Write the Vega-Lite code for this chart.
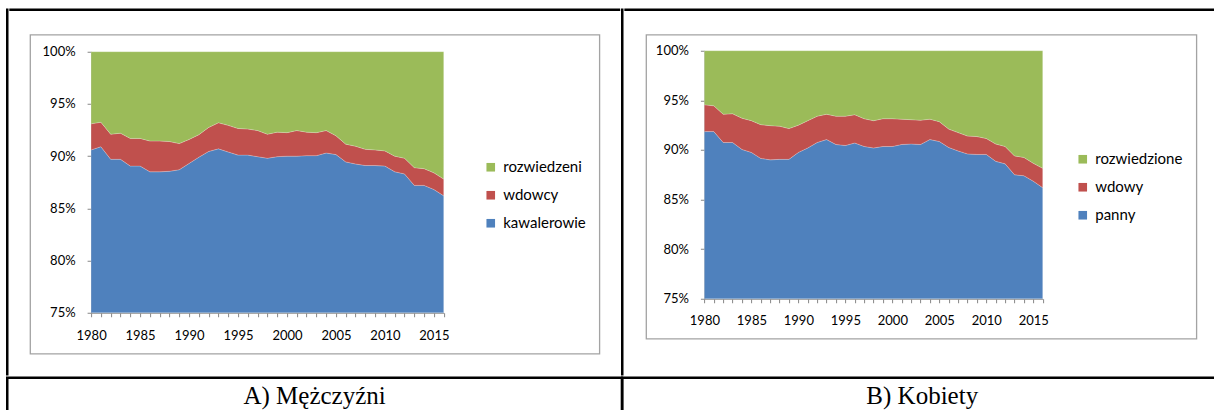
{
  "$schema": "https://vega.github.io/schema/vega-lite/v6.json",
  "padding": {"left": 5.25, "top": 7.75, "right": 0, "bottom": 0},
  "background": "white",
  "datasets": {
    "m": [
      {"rok":1980,"stan":"kawalerowie","udzial":90.6},{"rok":1980,"stan":"wdowcy","udzial":2.5},{"rok":1980,"stan":"rozwiedzeni","udzial":6.9},
      {"rok":1981,"stan":"kawalerowie","udzial":90.9},{"rok":1981,"stan":"wdowcy","udzial":2.35},{"rok":1981,"stan":"rozwiedzeni","udzial":6.75},
      {"rok":1982,"stan":"kawalerowie","udzial":89.7},{"rok":1982,"stan":"wdowcy","udzial":2.4},{"rok":1982,"stan":"rozwiedzeni","udzial":7.9},
      {"rok":1983,"stan":"kawalerowie","udzial":89.7},{"rok":1983,"stan":"wdowcy","udzial":2.5},{"rok":1983,"stan":"rozwiedzeni","udzial":7.8},
      {"rok":1984,"stan":"kawalerowie","udzial":89.05},{"rok":1984,"stan":"wdowcy","udzial":2.65},{"rok":1984,"stan":"rozwiedzeni","udzial":8.3},
      {"rok":1985,"stan":"kawalerowie","udzial":89.05},{"rok":1985,"stan":"wdowcy","udzial":2.65},{"rok":1985,"stan":"rozwiedzeni","udzial":8.3},
      {"rok":1986,"stan":"kawalerowie","udzial":88.5},{"rok":1986,"stan":"wdowcy","udzial":2.95},{"rok":1986,"stan":"rozwiedzeni","udzial":8.55},
      {"rok":1987,"stan":"kawalerowie","udzial":88.5},{"rok":1987,"stan":"wdowcy","udzial":2.95},{"rok":1987,"stan":"rozwiedzeni","udzial":8.55},
      {"rok":1988,"stan":"kawalerowie","udzial":88.55},{"rok":1988,"stan":"wdowcy","udzial":2.85},{"rok":1988,"stan":"rozwiedzeni","udzial":8.6},
      {"rok":1989,"stan":"kawalerowie","udzial":88.7},{"rok":1989,"stan":"wdowcy","udzial":2.5},{"rok":1989,"stan":"rozwiedzeni","udzial":8.8},
      {"rok":1990,"stan":"kawalerowie","udzial":89.3},{"rok":1990,"stan":"wdowcy","udzial":2.3},{"rok":1990,"stan":"rozwiedzeni","udzial":8.4},
      {"rok":1991,"stan":"kawalerowie","udzial":89.9},{"rok":1991,"stan":"wdowcy","udzial":2.15},{"rok":1991,"stan":"rozwiedzeni","udzial":7.95},
      {"rok":1992,"stan":"kawalerowie","udzial":90.45},{"rok":1992,"stan":"wdowcy","udzial":2.3},{"rok":1992,"stan":"rozwiedzeni","udzial":7.25},
      {"rok":1993,"stan":"kawalerowie","udzial":90.7},{"rok":1993,"stan":"wdowcy","udzial":2.5},{"rok":1993,"stan":"rozwiedzeni","udzial":6.8},
      {"rok":1994,"stan":"kawalerowie","udzial":90.4},{"rok":1994,"stan":"wdowcy","udzial":2.55},{"rok":1994,"stan":"rozwiedzeni","udzial":7.05},
      {"rok":1995,"stan":"kawalerowie","udzial":90.1},{"rok":1995,"stan":"wdowcy","udzial":2.55},{"rok":1995,"stan":"rozwiedzeni","udzial":7.35},
      {"rok":1996,"stan":"kawalerowie","udzial":90.1},{"rok":1996,"stan":"wdowcy","udzial":2.5},{"rok":1996,"stan":"rozwiedzeni","udzial":7.4},
      {"rok":1997,"stan":"kawalerowie","udzial":89.95},{"rok":1997,"stan":"wdowcy","udzial":2.5},{"rok":1997,"stan":"rozwiedzeni","udzial":7.55},
      {"rok":1998,"stan":"kawalerowie","udzial":89.8},{"rok":1998,"stan":"wdowcy","udzial":2.3},{"rok":1998,"stan":"rozwiedzeni","udzial":7.9},
      {"rok":1999,"stan":"kawalerowie","udzial":89.95},{"rok":1999,"stan":"wdowcy","udzial":2.35},{"rok":1999,"stan":"rozwiedzeni","udzial":7.7},
      {"rok":2000,"stan":"kawalerowie","udzial":90.0},{"rok":2000,"stan":"wdowcy","udzial":2.25},{"rok":2000,"stan":"rozwiedzeni","udzial":7.75},
      {"rok":2001,"stan":"kawalerowie","udzial":90.0},{"rok":2001,"stan":"wdowcy","udzial":2.45},{"rok":2001,"stan":"rozwiedzeni","udzial":7.55},
      {"rok":2002,"stan":"kawalerowie","udzial":90.05},{"rok":2002,"stan":"wdowcy","udzial":2.25},{"rok":2002,"stan":"rozwiedzeni","udzial":7.7},
      {"rok":2003,"stan":"kawalerowie","udzial":90.05},{"rok":2003,"stan":"wdowcy","udzial":2.2},{"rok":2003,"stan":"rozwiedzeni","udzial":7.75},
      {"rok":2004,"stan":"kawalerowie","udzial":90.3},{"rok":2004,"stan":"wdowcy","udzial":2.15},{"rok":2004,"stan":"rozwiedzeni","udzial":7.55},
      {"rok":2005,"stan":"kawalerowie","udzial":90.15},{"rok":2005,"stan":"wdowcy","udzial":1.8},{"rok":2005,"stan":"rozwiedzeni","udzial":8.05},
      {"rok":2006,"stan":"kawalerowie","udzial":89.45},{"rok":2006,"stan":"wdowcy","udzial":1.7},{"rok":2006,"stan":"rozwiedzeni","udzial":8.85},
      {"rok":2007,"stan":"kawalerowie","udzial":89.25},{"rok":2007,"stan":"wdowcy","udzial":1.7},{"rok":2007,"stan":"rozwiedzeni","udzial":9.05},
      {"rok":2008,"stan":"kawalerowie","udzial":89.1},{"rok":2008,"stan":"wdowcy","udzial":1.55},{"rok":2008,"stan":"rozwiedzeni","udzial":9.35},
      {"rok":2009,"stan":"kawalerowie","udzial":89.1},{"rok":2009,"stan":"wdowcy","udzial":1.5},{"rok":2009,"stan":"rozwiedzeni","udzial":9.4},
      {"rok":2010,"stan":"kawalerowie","udzial":89.05},{"rok":2010,"stan":"wdowcy","udzial":1.45},{"rok":2010,"stan":"rozwiedzeni","udzial":9.5},
      {"rok":2011,"stan":"kawalerowie","udzial":88.5},{"rok":2011,"stan":"wdowcy","udzial":1.5},{"rok":2011,"stan":"rozwiedzeni","udzial":10.0},
      {"rok":2012,"stan":"kawalerowie","udzial":88.3},{"rok":2012,"stan":"wdowcy","udzial":1.5},{"rok":2012,"stan":"rozwiedzeni","udzial":10.2},
      {"rok":2013,"stan":"kawalerowie","udzial":87.2},{"rok":2013,"stan":"wdowcy","udzial":1.7},{"rok":2013,"stan":"rozwiedzeni","udzial":11.1},
      {"rok":2014,"stan":"kawalerowie","udzial":87.2},{"rok":2014,"stan":"wdowcy","udzial":1.6},{"rok":2014,"stan":"rozwiedzeni","udzial":11.2},
      {"rok":2015,"stan":"kawalerowie","udzial":86.8},{"rok":2015,"stan":"wdowcy","udzial":1.6},{"rok":2015,"stan":"rozwiedzeni","udzial":11.6},
      {"rok":2016,"stan":"kawalerowie","udzial":86.2},{"rok":2016,"stan":"wdowcy","udzial":1.6},{"rok":2016,"stan":"rozwiedzeni","udzial":12.2}
    ],
    "k": [
      {"rok":1980,"stan":"panny","udzial":91.85},{"rok":1980,"stan":"wdowy","udzial":2.7},{"rok":1980,"stan":"rozwiedzione","udzial":5.45},
      {"rok":1981,"stan":"panny","udzial":91.85},{"rok":1981,"stan":"wdowy","udzial":2.6},{"rok":1981,"stan":"rozwiedzione","udzial":5.55},
      {"rok":1982,"stan":"panny","udzial":90.75},{"rok":1982,"stan":"wdowy","udzial":2.85},{"rok":1982,"stan":"rozwiedzione","udzial":6.4},
      {"rok":1983,"stan":"panny","udzial":90.75},{"rok":1983,"stan":"wdowy","udzial":2.9},{"rok":1983,"stan":"rozwiedzione","udzial":6.35},
      {"rok":1984,"stan":"panny","udzial":90.05},{"rok":1984,"stan":"wdowy","udzial":3.15},{"rok":1984,"stan":"rozwiedzione","udzial":6.8},
      {"rok":1985,"stan":"panny","udzial":89.75},{"rok":1985,"stan":"wdowy","udzial":3.2},{"rok":1985,"stan":"rozwiedzione","udzial":7.05},
      {"rok":1986,"stan":"panny","udzial":89.15},{"rok":1986,"stan":"wdowy","udzial":3.4},{"rok":1986,"stan":"rozwiedzione","udzial":7.45},
      {"rok":1987,"stan":"panny","udzial":89.0},{"rok":1987,"stan":"wdowy","udzial":3.45},{"rok":1987,"stan":"rozwiedzione","udzial":7.55},
      {"rok":1988,"stan":"panny","udzial":89.05},{"rok":1988,"stan":"wdowy","udzial":3.35},{"rok":1988,"stan":"rozwiedzione","udzial":7.6},
      {"rok":1989,"stan":"panny","udzial":89.05},{"rok":1989,"stan":"wdowy","udzial":3.1},{"rok":1989,"stan":"rozwiedzione","udzial":7.85},
      {"rok":1990,"stan":"panny","udzial":89.75},{"rok":1990,"stan":"wdowy","udzial":2.75},{"rok":1990,"stan":"rozwiedzione","udzial":7.5},
      {"rok":1991,"stan":"panny","udzial":90.2},{"rok":1991,"stan":"wdowy","udzial":2.75},{"rok":1991,"stan":"rozwiedzione","udzial":7.05},
      {"rok":1992,"stan":"panny","udzial":90.75},{"rok":1992,"stan":"wdowy","udzial":2.65},{"rok":1992,"stan":"rozwiedzione","udzial":6.6},
      {"rok":1993,"stan":"panny","udzial":91.05},{"rok":1993,"stan":"wdowy","udzial":2.55},{"rok":1993,"stan":"rozwiedzione","udzial":6.4},
      {"rok":1994,"stan":"panny","udzial":90.55},{"rok":1994,"stan":"wdowy","udzial":2.85},{"rok":1994,"stan":"rozwiedzione","udzial":6.6},
      {"rok":1995,"stan":"panny","udzial":90.45},{"rok":1995,"stan":"wdowy","udzial":2.95},{"rok":1995,"stan":"rozwiedzione","udzial":6.6},
      {"rok":1996,"stan":"panny","udzial":90.7},{"rok":1996,"stan":"wdowy","udzial":2.85},{"rok":1996,"stan":"rozwiedzione","udzial":6.45},
      {"rok":1997,"stan":"panny","udzial":90.35},{"rok":1997,"stan":"wdowy","udzial":2.8},{"rok":1997,"stan":"rozwiedzione","udzial":6.85},
      {"rok":1998,"stan":"panny","udzial":90.2},{"rok":1998,"stan":"wdowy","udzial":2.75},{"rok":1998,"stan":"rozwiedzione","udzial":7.05},
      {"rok":1999,"stan":"panny","udzial":90.35},{"rok":1999,"stan":"wdowy","udzial":2.8},{"rok":1999,"stan":"rozwiedzione","udzial":6.85},
      {"rok":2000,"stan":"panny","udzial":90.35},{"rok":2000,"stan":"wdowy","udzial":2.8},{"rok":2000,"stan":"rozwiedzione","udzial":6.85},
      {"rok":2001,"stan":"panny","udzial":90.55},{"rok":2001,"stan":"wdowy","udzial":2.55},{"rok":2001,"stan":"rozwiedzione","udzial":6.9},
      {"rok":2002,"stan":"panny","udzial":90.6},{"rok":2002,"stan":"wdowy","udzial":2.45},{"rok":2002,"stan":"rozwiedzione","udzial":6.95},
      {"rok":2003,"stan":"panny","udzial":90.55},{"rok":2003,"stan":"wdowy","udzial":2.45},{"rok":2003,"stan":"rozwiedzione","udzial":7.0},
      {"rok":2004,"stan":"panny","udzial":91.05},{"rok":2004,"stan":"wdowy","udzial":2.05},{"rok":2004,"stan":"rozwiedzione","udzial":6.9},
      {"rok":2005,"stan":"panny","udzial":90.85},{"rok":2005,"stan":"wdowy","udzial":2.0},{"rok":2005,"stan":"rozwiedzione","udzial":7.15},
      {"rok":2006,"stan":"panny","udzial":90.25},{"rok":2006,"stan":"wdowy","udzial":1.85},{"rok":2006,"stan":"rozwiedzione","udzial":7.9},
      {"rok":2007,"stan":"panny","udzial":89.9},{"rok":2007,"stan":"wdowy","udzial":1.85},{"rok":2007,"stan":"rozwiedzione","udzial":8.25},
      {"rok":2008,"stan":"panny","udzial":89.6},{"rok":2008,"stan":"wdowy","udzial":1.8},{"rok":2008,"stan":"rozwiedzione","udzial":8.6},
      {"rok":2009,"stan":"panny","udzial":89.55},{"rok":2009,"stan":"wdowy","udzial":1.8},{"rok":2009,"stan":"rozwiedzione","udzial":8.65},
      {"rok":2010,"stan":"panny","udzial":89.55},{"rok":2010,"stan":"wdowy","udzial":1.6},{"rok":2010,"stan":"rozwiedzione","udzial":8.85},
      {"rok":2011,"stan":"panny","udzial":88.85},{"rok":2011,"stan":"wdowy","udzial":1.75},{"rok":2011,"stan":"rozwiedzione","udzial":9.4},
      {"rok":2012,"stan":"panny","udzial":88.6},{"rok":2012,"stan":"wdowy","udzial":1.75},{"rok":2012,"stan":"rozwiedzione","udzial":9.65},
      {"rok":2013,"stan":"panny","udzial":87.5},{"rok":2013,"stan":"wdowy","udzial":1.9},{"rok":2013,"stan":"rozwiedzione","udzial":10.6},
      {"rok":2014,"stan":"panny","udzial":87.4},{"rok":2014,"stan":"wdowy","udzial":1.85},{"rok":2014,"stan":"rozwiedzione","udzial":10.75},
      {"rok":2015,"stan":"panny","udzial":86.85},{"rok":2015,"stan":"wdowy","udzial":1.8},{"rok":2015,"stan":"rozwiedzione","udzial":11.35},
      {"rok":2016,"stan":"panny","udzial":86.2},{"rok":2016,"stan":"wdowy","udzial":1.95},{"rok":2016,"stan":"rozwiedzione","udzial":11.85}
    ],
    "kolejnosc": [
      {"stan":"kawalerowie","warstwa":1},{"stan":"wdowcy","warstwa":2},{"stan":"rozwiedzeni","warstwa":3},
      {"stan":"panny","warstwa":1},{"stan":"wdowy","warstwa":2},{"stan":"rozwiedzione","warstwa":3}
    ]
  },
  "vconcat": [
    {
      "hconcat": [
        {"data": {"values": []}, "mark": "point", "width": 0.01, "height": 364.5, "view": {"stroke": "#000", "strokeWidth": 2.5}},
        {
          "vconcat": [
            {"data": {"values": []}, "mark": "point", "width": 608.4, "height": 0.01, "view": {"stroke": "#000", "strokeWidth": 2.5}},
            {
              "data": {"name": "m"},
              "transform": [{"lookup": "stan", "from": {"data": {"name": "kolejnosc"}, "key": "stan", "fields": ["warstwa"]}}],
              "width": 569.3,
              "height": 319,
              "view": {"stroke": "#a3a3a3", "strokeWidth": 1.3},
              "mark": {"type": "area", "stroke": "#ffffff", "strokeWidth": 0.4, "strokeOpacity": 0.5},
              "encoding": {
                "x": {
                  "field": "rok", "type": "quantitative",
                  "scale": {"domain": [1980, 2016], "range": [61, 413.6], "nice": false, "zero": false},
                  "axis": {"title": null, "offset": -41, "labelFlush": false, "labelOverlap": false, "values": [1980,1981,1982,1983,1984,1985,1986,1987,1988,1989,1990,1991,1992,1993,1994,1995,1996,1997,1998,1999,2000,2001,2002,2003,2004,2005,2006,2007,2008,2009,2010,2011,2012,2013,2014,2015,2016], "labelExpr": "datum.value % 5 == 0 ? datum.value : ''", "labelPadding": 13}
                },
                "y": {
                  "field": "udzial", "type": "quantitative", "stack": "normalize",
                  "scale": {"domain": [0.75, 1], "range": [278, 17], "clamp": true, "nice": false, "zero": false},
                  "axis": {"title": null, "offset": -61, "values": [0.75, 0.8, 0.85, 0.9, 0.95, 1], "format": ".0%", "labelPadding": 12}
                },
                "order": {"field": "warstwa", "type": "quantitative"},
                "color": {
                  "field": "stan", "type": "nominal",
                  "scale": {"domain": ["rozwiedzeni", "wdowcy", "kawalerowie"], "range": ["#9BBB59", "#C0504D", "#4F81BD"]},
                  "legend": {"title": null, "orient": "none", "legendX": 473, "legendY": 150, "rowPadding": 12}
                }
              }
            }
          ],
          "spacing": 24,
          "center": true,
          "bounds": "flush"
        },
        {"data": {"values": []}, "mark": "point", "width": 0.01, "height": 364.5, "view": {"stroke": "#000", "strokeWidth": 2.5}},
        {
          "vconcat": [
            {"data": {"values": []}, "mark": "point", "width": 591.3, "height": 0.01, "view": {"stroke": "#000", "strokeWidth": 2.5}},
            {
              "data": {"name": "k"},
              "transform": [{"lookup": "stan", "from": {"data": {"name": "kolejnosc"}, "key": "stan", "fields": ["warstwa"]}}],
              "width": 550.3,
              "height": 304,
              "view": {"stroke": "#a3a3a3", "strokeWidth": 1.3},
              "mark": {"type": "area", "stroke": "#ffffff", "strokeWidth": 0.4, "strokeOpacity": 0.5},
              "encoding": {
                "x": {
                  "field": "rok", "type": "quantitative",
                  "scale": {"domain": [1980, 2016], "range": [58.3, 396.6], "nice": false, "zero": false},
                  "axis": {"title": null, "offset": -40, "labelFlush": false, "labelOverlap": false, "values": [1980,1981,1982,1983,1984,1985,1986,1987,1988,1989,1990,1991,1992,1993,1994,1995,1996,1997,1998,1999,2000,2001,2002,2003,2004,2005,2006,2007,2008,2009,2010,2011,2012,2013,2014,2015,2016], "labelExpr": "datum.value % 5 == 0 ? datum.value : ''", "labelPadding": 12}
                },
                "y": {
                  "field": "udzial", "type": "quantitative", "stack": "normalize",
                  "scale": {"domain": [0.75, 1], "range": [264, 16], "clamp": true, "nice": false, "zero": false},
                  "axis": {"title": null, "offset": -58.3, "values": [0.75, 0.8, 0.85, 0.9, 0.95, 1], "format": ".0%", "labelPadding": 12}
                },
                "order": {"field": "warstwa", "type": "quantitative"},
                "color": {
                  "field": "stan", "type": "nominal",
                  "scale": {"domain": ["rozwiedzione", "wdowy", "panny"], "range": ["#9BBB59", "#C0504D", "#4F81BD"]},
                  "legend": {"title": null, "orient": "none", "legendX": 450, "legendY": 142, "rowPadding": 12}
                }
              }
            }
          ],
          "spacing": 24,
          "center": true,
          "bounds": "flush"
        }
      ],
      "spacing": 0,
      "resolve": {"scale": {"color": "independent"}, "legend": {"color": "independent"}}
    },
    {
      "hconcat": [
        {"data": {"values": [{"podpis": "A) Mężczyźni"}]}, "width": 614.7, "height": 53, "view": {"stroke": "#000", "strokeWidth": 2.5},
         "mark": {"type": "text", "font": "Liberation Serif", "fontSize": 25, "baseline": "alphabetic", "color": "#000"},
         "encoding": {"text": {"field": "podpis"}}},
        {"data": {"values": [{"podpis": "B) Kobiety"}]}, "width": 600, "height": 53, "view": {"stroke": "#000", "strokeWidth": 2.5},
         "mark": {"type": "text", "font": "Liberation Serif", "fontSize": 25, "baseline": "alphabetic", "color": "#000"},
         "encoding": {"text": {"field": "podpis"}}}
      ],
      "spacing": 0,
      "bounds": "flush"
    }
  ],
  "spacing": 0,
  "resolve": {"scale": {"color": "independent"}, "legend": {"color": "independent"}},
  "config": {
    "view": {"stroke": null},
    "font": "Lato",
    "axis": {
      "labelFont": "Lato", "labelFontSize": 13, "labelColor": "#000",
      "domainColor": "#868686", "tickColor": "#868686", "tickSize": 4, "grid": false
    },
    "legend": {
      "labelFont": "Lato", "labelFontSize": 15, "labelColor": "#000",
      "symbolType": "square", "symbolSize": 74, "symbolStrokeWidth": 0, "labelOffset": 5
    }
  }
}
